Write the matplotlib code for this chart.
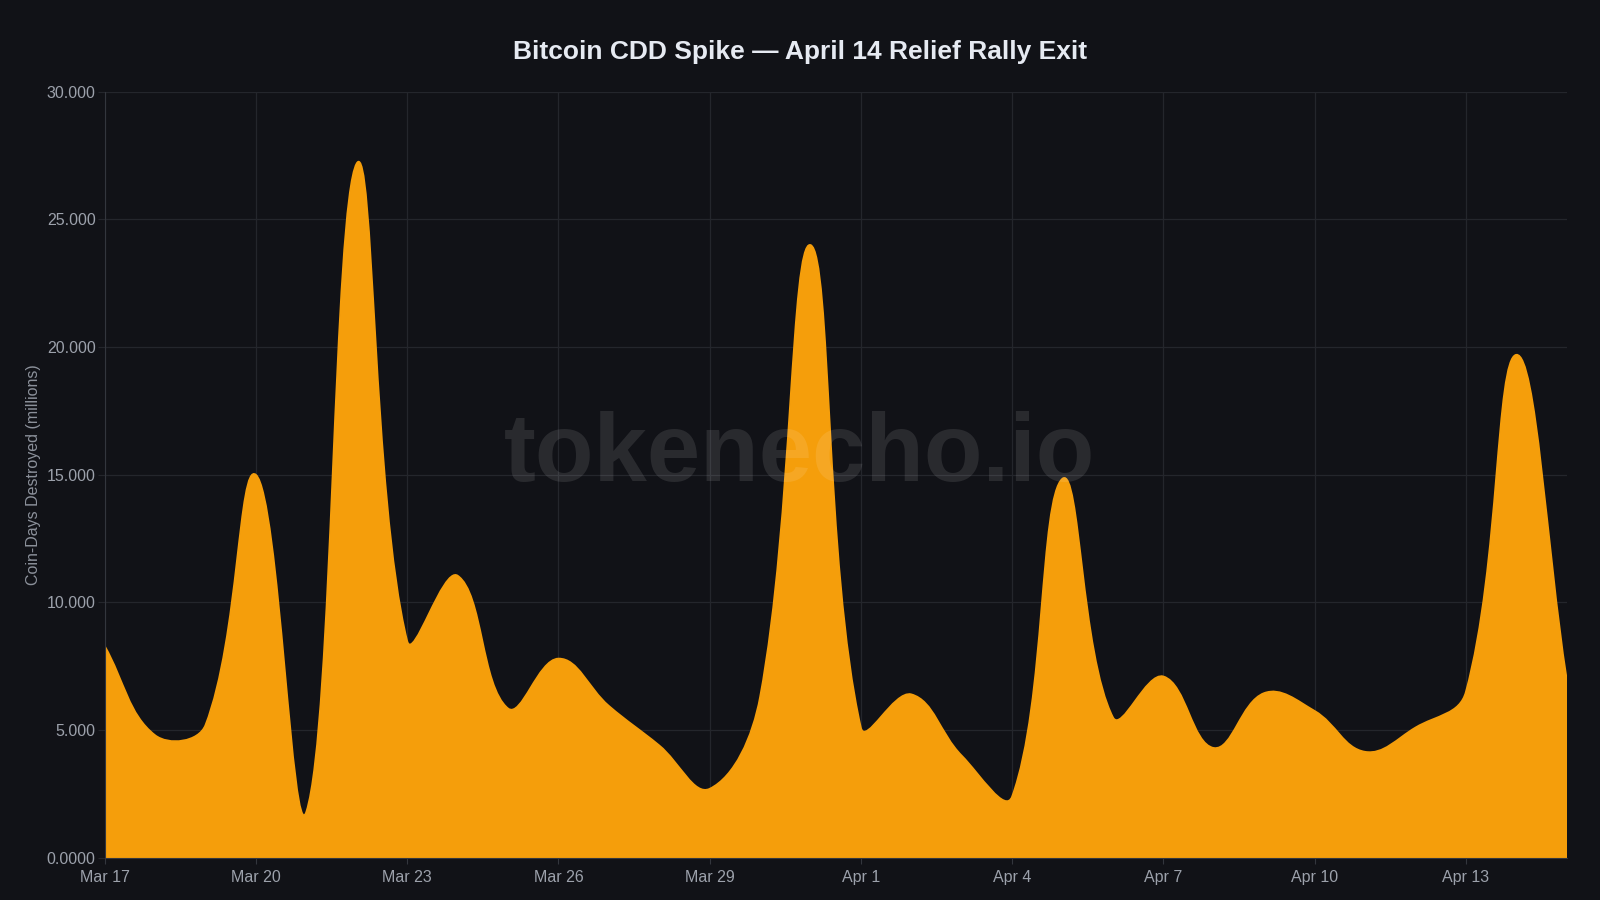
import numpy as np
import pandas as pd
import matplotlib
matplotlib.use("Agg")
import matplotlib.pyplot as plt
from matplotlib.path import Path
from matplotlib.patches import PathPatch

# daily coin-days destroyed, millions (Mar 17 .. Apr 15)
dates = pd.date_range("2025-03-17", periods=30, freq="D")
cdd = [8.3, 4.8, 5.2, 15.0, 1.8, 27.2, 8.5, 11.05, 5.85, 7.8,
       5.95, 4.4, 2.7, 6.3, 24.0, 5.1, 6.4, 4.0, 2.4, 14.85,
       5.5, 7.1, 4.3, 6.45, 5.75, 4.15, 5.1, 6.5, 19.7, 7.0]
yticks = [0, 5, 10, 15, 20, 25, 30]
yticklabels = ["0.0000", "5.000", "10.000", "15.000", "20.000", "25.000", "30.000"]

BG = "#111217"
GRID = "#24262c"
TXT = "#9ca1ab"
AMBER = "#f59e0b"

plt.rcParams['font.family'] = ['Liberation Sans', 'DejaVu Sans']


def spline_path(xs, ys, sx, sy, tension=0.4, ymin=0, ymax=30):
    # chart.js style bezier control points, distances measured in pixels
    n = len(xs)
    px = np.asarray(xs, float) * sx
    py = np.asarray(ys, float) * sy
    cp_prev, cp_next = [], []
    for i in range(n):
        p = max(i - 1, 0)
        q = min(i + 1, n - 1)
        d01 = np.hypot(px[i] - px[p], py[i] - py[p])
        d12 = np.hypot(px[q] - px[i], py[q] - py[i])
        tot = d01 + d12
        s01 = d01 / tot if tot else 0
        s12 = d12 / tot if tot else 0
        fa, fb = tension * s01, tension * s12
        cp_prev.append((px[i] - fa * (px[q] - px[p]), py[i] - fa * (py[q] - py[p])))
        cp_next.append((px[i] + fb * (px[q] - px[p]), py[i] + fb * (py[q] - py[p])))
    to_data = lambda c: (c[0] / sx, min(max(c[1] / sy, ymin), ymax))
    verts = [(xs[0], 0), (xs[0], ys[0])]
    codes = [Path.MOVETO, Path.LINETO]
    for i in range(n - 1):
        verts += [to_data(cp_next[i]), to_data(cp_prev[i + 1]), (xs[i + 1], ys[i + 1])]
        codes += [Path.CURVE4] * 3
    verts += [(xs[-1], 0), (xs[0], 0)]
    codes += [Path.LINETO, Path.CLOSEPOLY]
    return Path(verts, codes)


fig = plt.figure(figsize=(16, 9), dpi=100, facecolor=BG)
ax = fig.add_axes([0.0654, 0.047, 0.9138, 0.851], facecolor=BG)

x = np.arange(len(dates))
ax.set_xlim(0, len(dates) - 1)
ax.set_ylim(0, 30)

path = spline_path(x, cdd, sx=50.4, sy=25.53)
ax.add_patch(PathPatch(path, facecolor=AMBER, edgecolor=AMBER, lw=1.2, zorder=2))

ax.set_xticks(x[::3])
ax.set_xticklabels([f"{d:%b} {d.day}" for d in dates[::3]])
ax.set_yticks(yticks)
ax.set_yticklabels(yticklabels)

ax.grid(True, color=GRID, lw=0.9, zorder=0)
ax.set_axisbelow(True)
for side in ["top", "right"]:
    ax.spines[side].set_visible(False)
for side in ["left", "bottom"]:
    ax.spines[side].set_color("#33363d")
ax.tick_params(colors=TXT, labelsize=11.5, width=0.8, color="#33363d")
ax.tick_params(axis="x", length=4, pad=5)
ax.tick_params(axis="y", length=5, pad=1.5, color=GRID)

ax.set_ylabel("Coin-Days Destroyed (millions)", color="#8c919b", fontsize=11.5)
ax.yaxis.set_label_coords(-0.0438, 0.5)

fig.text(0.5, 0.942, "Bitcoin CDD Spike \u2014 April 14 Relief Rally Exit",
         ha="center", va="center", color="#e6eaf2", fontsize=19, fontweight="bold")

# watermark over the area
ax.text(0.5, 0.493, "tokenecho.io", transform=fig.transFigure, ha="center", va="center",
        fontsize=69, fontweight="bold", color="white", alpha=0.1, zorder=5)

fig.savefig("out.png", dpi=100, facecolor=BG)
